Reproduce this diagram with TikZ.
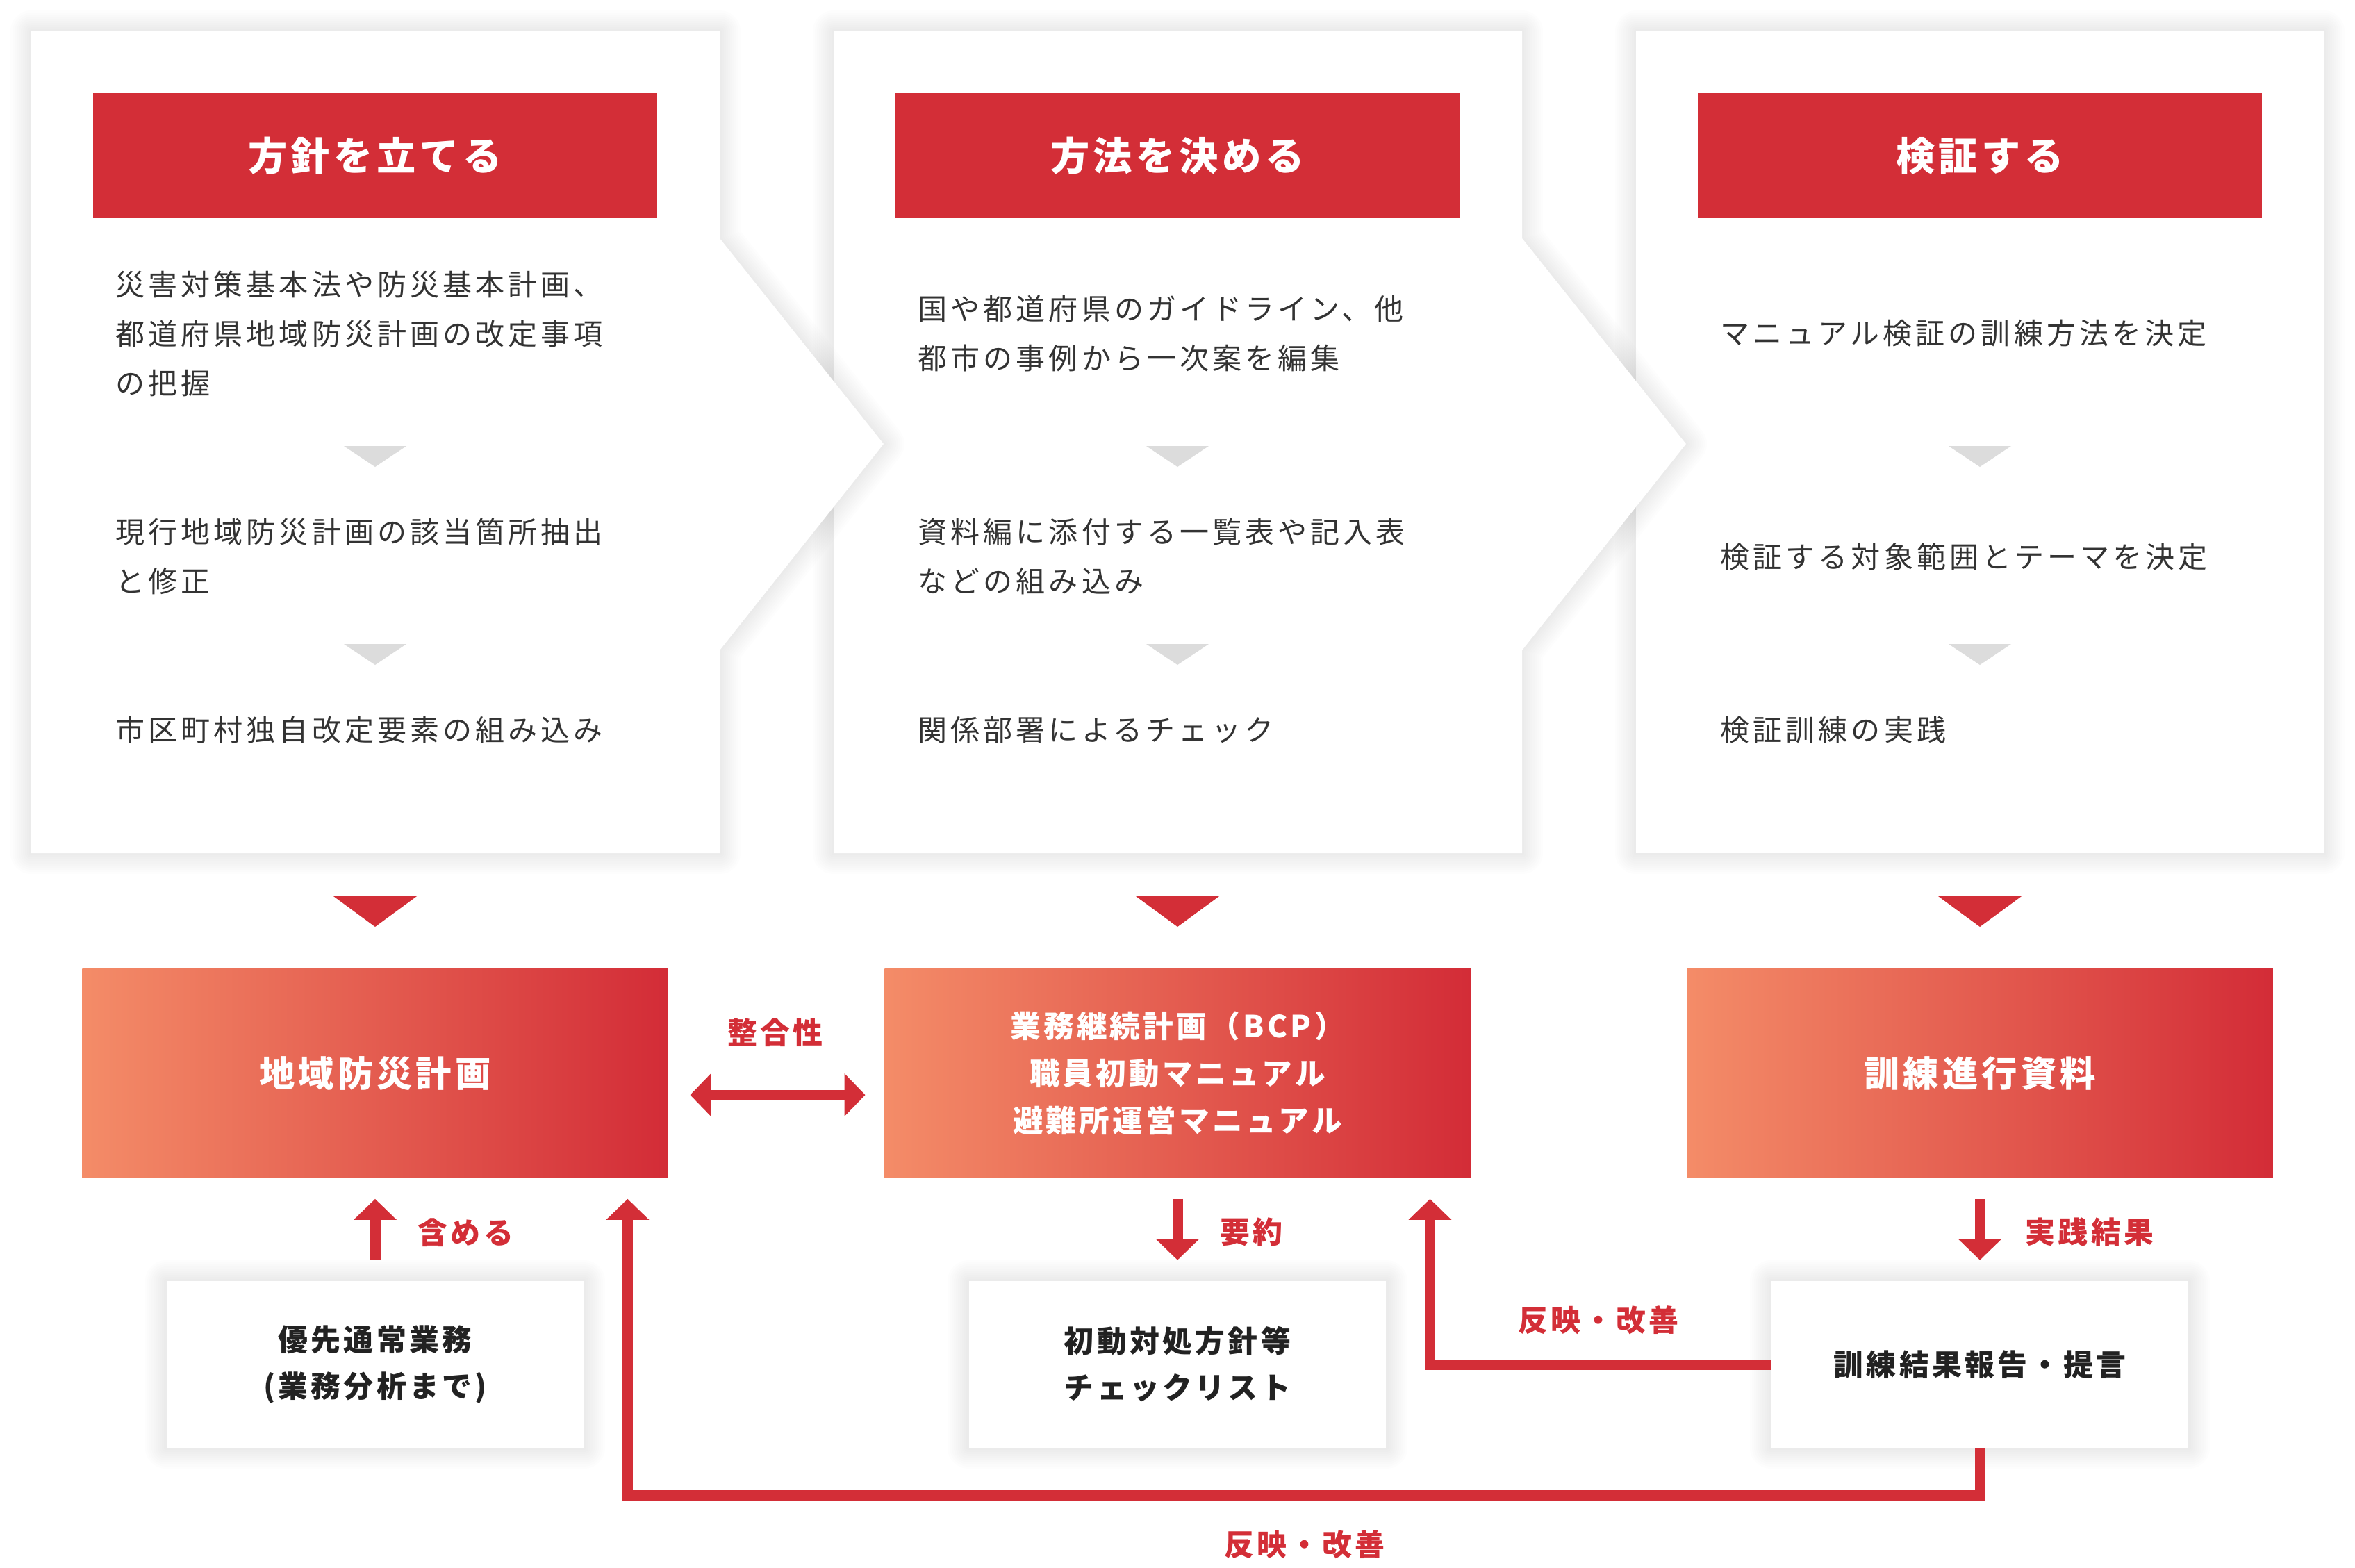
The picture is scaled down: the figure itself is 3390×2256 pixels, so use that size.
\documentclass[tikz,border=0pt]{standalone}
\usepackage{fontspec}
\setmainfont{Noto Sans CJK JP}
\newfontfamily\jpbody[LetterSpace=12]{Noto Sans CJK JP}
\newfontfamily\jpbold[LetterSpace=10]{Noto Sans CJK JP}
\usetikzlibrary{arrows.meta,calc}
\definecolor{hdred}{RGB}{211,46,55}
\definecolor{gradL}{RGB}{244,140,104}
\definecolor{gradR}{RGB}{211,44,55}
\definecolor{tri}{RGB}{220,220,220}
\definecolor{bodytxt}{RGB}{51,51,51}
\definecolor{boxtxt}{RGB}{34,34,34}
\pgfdeclarelayer{paper}
\pgfdeclarelayer{shadowlayer}
\pgfsetlayers{paper,shadowlayer,main}
% soft drop shade: stacked translucent strokes around a path
\newcommand\dropshade[1]{%
  \foreach \w in {0.06cm,0.12cm,0.18cm,0.24cm,0.30cm,0.36cm,0.42cm,0.48cm,0.54cm,0.60cm}{%
    \draw[black, draw opacity=0.009, line width=\w, line join=round] #1;}}
\begin{document}
\begin{tikzpicture}[x=0.01cm,y=-0.01cm,
  header/.style={fill=hdred, minimum width=8.11cm, minimum height=1.79cm, inner sep=0pt, text=white, font=\jpbold\bfseries\fontsize{16pt}{18pt}\selectfont},
  bodytext/.style={anchor=west, inner sep=0pt, align=left, text=bodytxt, font=\jpbody\fontsize{11.95pt}{20.2pt}\selectfont},
  graytri/.style={fill=tri},
  redtri/.style={fill=hdred},
  gradbox/.style={left color=gradL, right color=gradR, minimum width=8.43cm, minimum height=3cm, inner sep=0pt, text=white, align=center, font=\jpbold\bfseries\fontsize{14.6pt}{19.35pt}\selectfont},
  smallbox/.style={fill=white, minimum width=6cm, minimum height=2.39cm, inner sep=0pt, text=boxtxt, align=center, font=\jpbold\bfseries\fontsize{12.2pt}{19.1pt}\selectfont},
  conn/.style={draw=hdred, line width=0.15cm, -{Triangle[width=0.6cm,length=0.3cm]}},
  dblconn/.style={draw=hdred, line width=0.15cm, {Triangle[width=0.6cm,length=0.3cm]}-{Triangle[width=0.6cm,length=0.3cm]}},
  lbl/.style={text=hdred, inner sep=0pt, font=\jpbold\bfseries\fontsize{12.2pt}{14pt}\selectfont}
]
\begin{pgfonlayer}{paper}
\fill[white] (0,0) rectangle (3390,2256);
\end{pgfonlayer}
\useasboundingbox (0,0) rectangle (3390,2256);

% panels (drawn right to left so each chevron lies on top of the next panel)
\dropshade{(2355,45) rectangle (3345,1228)}
\fill[white] (2355,45) rectangle (3345,1228);
\dropshade{(1200,45) -- (2191,45) -- (2191,343) -- (2427,639) -- (2191,936) -- (2191,1228) -- (1200,1228) -- cycle}
\fill[white] (1200,45) -- (2191,45) -- (2191,343) -- (2427,639) -- (2191,936) -- (2191,1228) -- (1200,1228) -- cycle;
\dropshade{(45,45) -- (1036,45) -- (1036,343) -- (1272,639) -- (1036,936) -- (1036,1228) -- (45,1228) -- cycle}
\fill[white] (45,45) -- (1036,45) -- (1036,343) -- (1272,639) -- (1036,936) -- (1036,1228) -- (45,1228) -- cycle;

% headers
\node[header] (h1) at (540,224) {方針を立てる};
\node[header] (h2) at (1695,224) {方法を決める};
\node[header] (h3) at (2850,224) {検証する};

% body texts
\node[bodytext] (a1) at (166,480) {災害対策基本法や防災基本計画、\\都道府県地域防災計画の改定事項\\の把握};
\node[bodytext] (a2) at (166,801) {現行地域防災計画の該当箇所抽出\\と修正};
\node[bodytext] (a3) at (166,1051) {市区町村独自改定要素の組み込み};
\node[bodytext] (b1) at (1321,480) {国や都道府県のガイドライン、他\\都市の事例から一次案を編集};
\node[bodytext] (b2) at (1321,801) {資料編に添付する一覧表や記入表\\などの組み込み};
\node[bodytext] (b3) at (1321,1051) {関係部署によるチェック};
\node[bodytext] (c1) at (2476,480) {マニュアル検証の訓練方法を決定};
\node[bodytext] (c2) at (2476,802) {検証する対象範囲とテーマを決定};
\node[bodytext] (c3) at (2476,1051) {検証訓練の実践};

% gray step triangles and red triangles
\foreach \cx in {540,1695,2850} {
  \fill[graytri] (\cx-45,642) -- (\cx+45,642) -- (\cx,672) -- cycle;
  \fill[graytri] (\cx-45,927) -- (\cx+45,927) -- (\cx,957) -- cycle;
  \fill[redtri] (\cx-60,1290) -- (\cx+60,1290) -- (\cx,1334) -- cycle;
}

% gradient boxes
\node[gradbox] (B1) at (540,1545) {地域防災計画};
\node[gradbox, font=\jpbold\bfseries\fontsize{12.4pt}{19.35pt}\selectfont] (B2) at (1695,1545) {業務継続計画（BCP）\\職員初動マニュアル\\避難所運営マニュアル};
\node[gradbox] (B3) at (2850,1545) {訓練進行資料};

% small boxes
\node[smallbox] (S1) at (540,1964) {優先通常業務\\(業務分析まで)};
\node[smallbox] (S2) at (1695,1964) {初動対処方針等\\チェックリスト};
\node[smallbox] (S3) at (2850,1964) {訓練結果報告・提言};
\begin{pgfonlayer}{shadowlayer}
\dropshade{(S1.north west) rectangle (S1.south east)}
\dropshade{(S2.north west) rectangle (S2.south east)}
\dropshade{(S3.north west) rectangle (S3.south east)}
\end{pgfonlayer}

% connectors
\draw[dblconn] ($(B1.east)+(31,31)$) -- ($(B2.west)+(-27,31)$);
\draw[conn] ($(S1.north)+(0,-31)$) -- ($(B1.south)+(0,30)$);
\draw[conn] ($(B2.south)+(0,30)$) -- ($(S2.north)+(0,-30)$);
\draw[conn] ($(B3.south)+(0,30)$) -- ($(S3.north)+(0,-30)$);
\draw[conn] (S3.west) -| ($(B2.south east)+(-59,30)$);
\draw[conn] (S3.south) -- ++(0,68) -| ($(B1.south east)+(-59,30)$);

% labels
\node[lbl] (l2) at (1116,1486) {整合性};
\node[lbl, anchor=west] (l1) at (601,1774) {含める};
\node[lbl, anchor=west] (l3) at (1756,1773) {要約};
\node[lbl, anchor=west] (l4) at (2915,1773) {実践結果};
\node[lbl] (l5) at (2301,1900) {反映・改善};
\node[lbl] (l6) at (1878,2223) {反映・改善};
\end{tikzpicture}
\end{document}
